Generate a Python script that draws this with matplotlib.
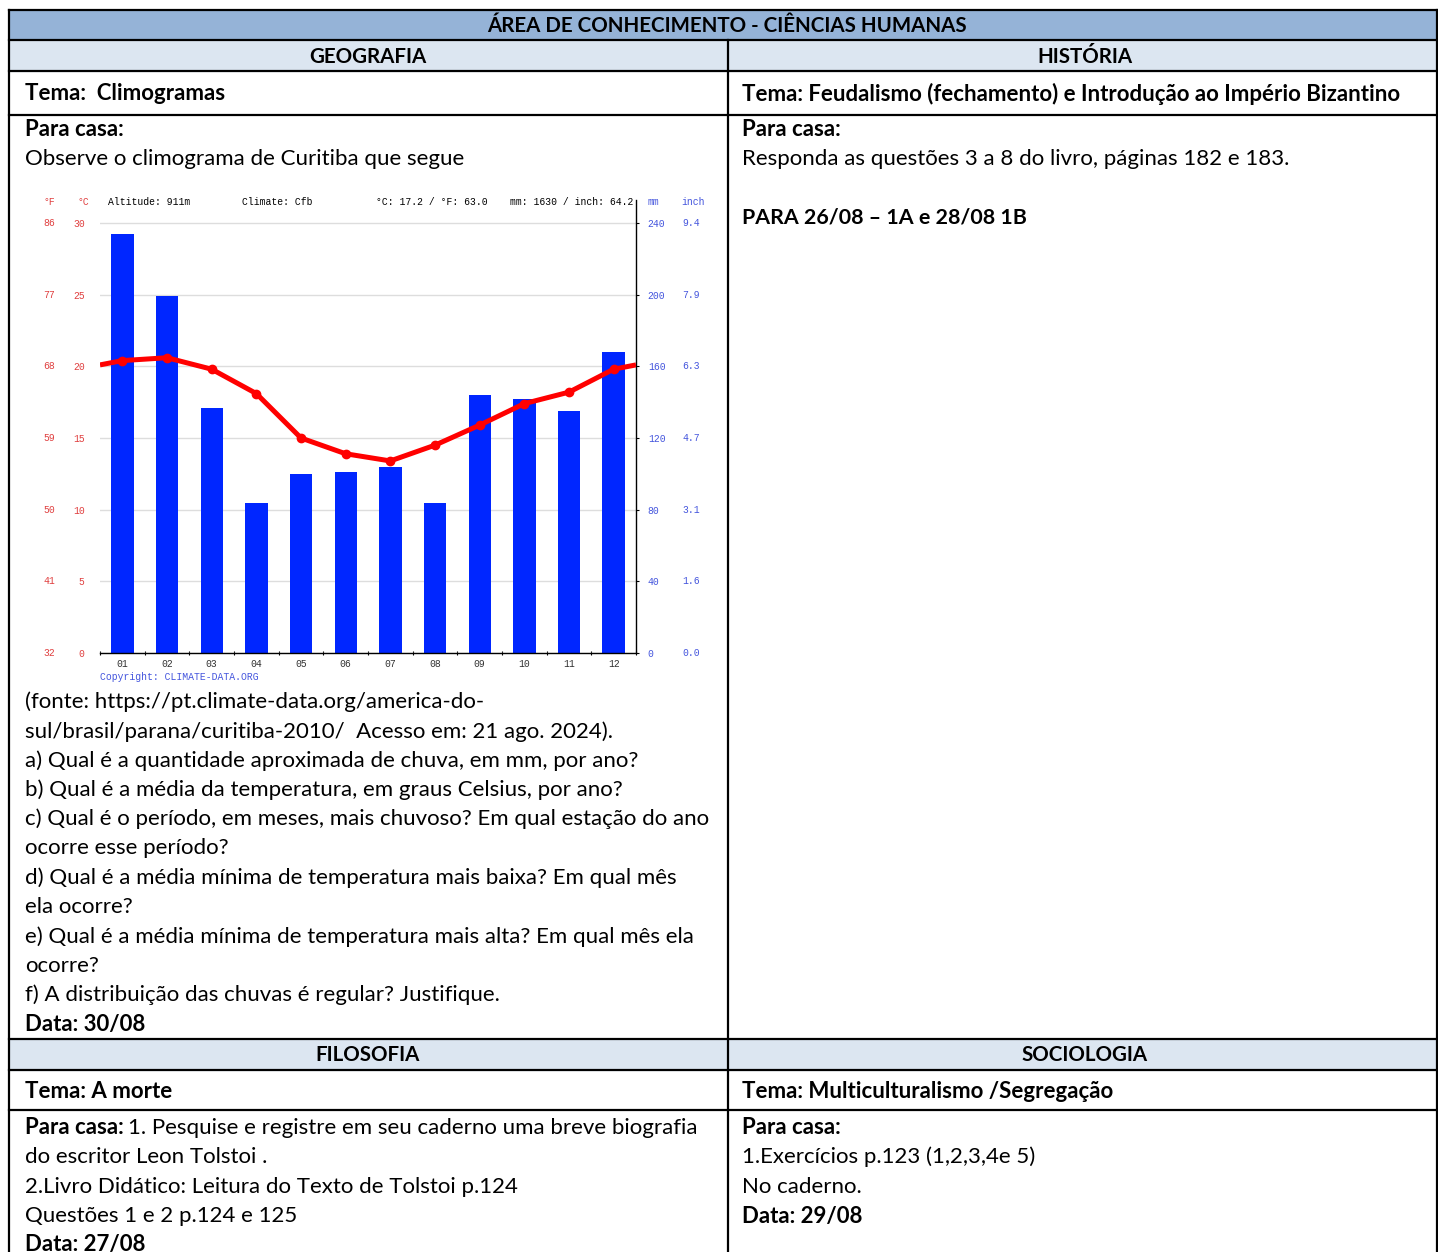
import matplotlib
matplotlib.use("Agg")
import matplotlib.pyplot as plt
from matplotlib.patches import Rectangle
from matplotlib.transforms import blended_transform_factory, IdentityTransform

W, H = 1438, 1252

# climograma de Curitiba (climate-data.org)
months = ["01", "02", "03", "04", "05", "06", "07", "08", "09", "10", "11", "12"]
precip_mm = [234, 199, 137, 84, 100, 101, 104, 84, 144, 142, 135, 168]
temp_c = [20.4, 20.6, 19.8, 18.1, 15.0, 13.9, 13.4, 14.5, 15.9, 17.4, 18.2, 19.8]
temp_ticks_c = [0, 5, 10, 15, 20, 25, 30]
temp_labels_f = ["32", "41", "50", "59", "68", "77", "86"]
precip_ticks_mm = [0, 40, 80, 120, 160, 200, 240]
precip_labels_in = ["0.0", "1.6", "3.1", "4.7", "6.3", "7.9", "9.4"]
chart_header = ["Altitude: 911m", "Climate: Cfb", "°C: 17.2 / °F: 63.0", "mm: 1630 / inch: 64.2"]

FONT = "Lato"
FS = 16
FS_CAPS = 14.8
RED = "#e04040"
BLUE = "#4455dd"

fig = plt.figure(figsize=(W / 100, H / 100), dpi=100)
bg = fig.add_axes([0, 0, 1, 1])
bg.set_xlim(0, W)
bg.set_ylim(H, 0)
bg.axis("off")

# table backgrounds
bg.add_patch(Rectangle((9, 10), W - 9, 30, color="#95b3d7", zorder=0))
bg.add_patch(Rectangle((9, 40), W - 9, 31, color="#dce6f1", zorder=0))
bg.add_patch(Rectangle((9, 1039), W - 9, 31, color="#dce6f1", zorder=0))

for y in [10, 40, 71, 115, 1039, 1070, 1110]:
    bg.plot([9, W], [y, y], color="black", lw=1.6, zorder=2)
bg.plot([9, 9], [10, H], color="black", lw=1.6, zorder=2)
bg.plot([1437, 1437], [10, H], color="black", lw=1.6, zorder=2)
bg.plot([728, 728], [40, H], color="black", lw=1.6, zorder=2)


def txt(x, y, s, bold=False, ha="left", size=FS):
    return bg.text(x, y, s, fontsize=size, family=FONT, ha=ha, va="center",
                   fontweight="bold" if bold else "normal", zorder=3)


def mixed(x, y, bold_part, rest):
    t = txt(x, y, bold_part, bold=True)
    bb = t.get_window_extent(renderer=fig.canvas.get_renderer())
    bg.text(bb.x1 + 4, y, rest, fontsize=FS, family=FONT, ha="left", va="center",
            transform=blended_transform_factory(IdentityTransform(), bg.transData), zorder=3)


txt(727, 26, "ÁREA DE CONHECIMENTO - CIÊNCIAS HUMANAS", bold=True, ha="center", size=FS_CAPS)
txt(368, 57, "GEOGRAFIA", bold=True, ha="center", size=FS_CAPS)
txt(1085, 57, "HISTÓRIA", bold=True, ha="center", size=FS_CAPS)
txt(25, 94, "Tema:  Climogramas", bold=True)
txt(742, 94, "Tema: Feudalismo (fechamento) e Introdução ao Império Bizantino", bold=True)

txt(25, 130, "Para casa:", bold=True)
txt(25, 159, "Observe o climograma de Curitiba que segue")
txt(742, 130, "Para casa:", bold=True)
txt(742, 159, "Responda as questões 3 a 8 do livro, páginas 182 e 183.")
txt(742, 218, "PARA 26/08 – 1A e 28/08 1B", bold=True, size=15.4)

left_lines = [
    "(fonte: https://pt.climate-data.org/america-do-",
    "sul/brasil/parana/curitiba-2010/  Acesso em: 21 ago. 2024).",
    "a) Qual é a quantidade aproximada de chuva, em mm, por ano?",
    "b) Qual é a média da temperatura, em graus Celsius, por ano?",
    "c) Qual é o período, em meses, mais chuvoso? Em qual estação do ano",
    "ocorre esse período?",
    "d) Qual é a média mínima de temperatura mais baixa? Em qual mês",
    "ela ocorre?",
    "e) Qual é a média mínima de temperatura mais alta? Em qual mês ela",
    "ocorre?",
    "f) A distribuição das chuvas é regular? Justifique.",
]
for i, s in enumerate(left_lines):
    txt(25, 702 + i * 29.3, s)
txt(25, 1024, "Data: 30/08", bold=True)

txt(368, 1055, "FILOSOFIA", bold=True, ha="center", size=FS_CAPS)
txt(1085, 1055, "SOCIOLOGIA", bold=True, ha="center", size=FS_CAPS)
txt(25, 1091, "Tema: A morte", bold=True)
txt(742, 1091, "Tema: Multiculturalismo /Segregação", bold=True)

mixed(25, 1128, "Para casa:", "1. Pesquise e registre em seu caderno uma breve biografia")
txt(25, 1157, "do escritor Leon Tolstoi .")
txt(25, 1187, "2.Livro Didático: Leitura do Texto de Tolstoi p.124")
txt(25, 1216, "Questões 1 e 2 p.124 e 125")
txt(25, 1244, "Data: 27/08", bold=True)

txt(742, 1128, "Para casa:", bold=True)
txt(742, 1157, "1.Exercícios p.123 (1,2,3,4e 5)")
txt(742, 1187, "No caderno.")
txt(742, 1216, "Data: 29/08", bold=True)

# ---- climogram ----
top_px, bot_px, left_px, right_px = 200, 653, 100, 636
scale = (bot_px - top_px) / (bot_px - 223)
ax = fig.add_axes([left_px / W, (H - bot_px) / H, (right_px - left_px) / W, (bot_px - top_px) / H])
ax.set_xlim(0.5, 12.5)
ax.set_ylim(0, 240 * scale)
xs = list(range(1, 13))
ax.bar(xs, precip_mm, width=0.5, color="#0026ff", zorder=2)
ax.grid(axis="y", color="#dddddd", lw=1, zorder=0)
ax.set_axisbelow(True)
ax.set_xticks(xs)
ax.set_xticklabels(months, family="Liberation Mono", fontsize=7, color="#333333")
ax.set_xticks([x + 0.5 for x in range(0, 13)], minor=True)
ax.tick_params(axis="x", which="major", length=0, pad=4)
ax.tick_params(axis="x", which="minor", length=3, width=0.8, direction="inout")
ax.patch.set_alpha(0)

axt = ax.twinx()
axt.set_ylim(0, 30 * scale)
edge = (temp_c[0] + temp_c[-1]) / 2
axt.plot([0.5] + xs + [12.5], [edge] + temp_c + [edge], color="#ff0000", lw=3.6,
         solid_capstyle="butt", zorder=3)
axt.plot(xs, temp_c, "o", color="#ff0000", ms=6, zorder=4)
axt.yaxis.tick_left()
axt.set_yticks(temp_ticks_c)
axt.set_yticklabels([str(v) for v in temp_ticks_c], family="Liberation Mono")
axt.tick_params(axis="y", length=0, pad=11, labelcolor=RED, labelsize=7)
for s in axt.spines.values():
    s.set_visible(False)

# precipitation ticks on the right (after twinx, which moves them)
ax.yaxis.tick_right()
ax.set_yticks(precip_ticks_mm)
ax.set_yticklabels([str(v) for v in precip_ticks_mm], family="Liberation Mono")
ax.tick_params(axis="y", colors="black", labelcolor=BLUE, length=2.5, width=0.8, pad=6, labelsize=7)
for s in ["top", "left"]:
    ax.spines[s].set_visible(False)
ax.spines["bottom"].set_linewidth(1)
ax.spines["right"].set_linewidth(1)

ytr = axt.get_yaxis_transform()
for c, f in zip(temp_ticks_c, temp_labels_f):
    axt.text(-0.084, c, f, transform=ytr, ha="right", va="center", fontsize=7,
             family="Liberation Mono", color=RED)
ytr2 = ax.get_yaxis_transform()
for mm, inch in zip(precip_ticks_mm, precip_labels_in):
    ax.text(1.086, mm, inch, transform=ytr2, ha="left", va="center", fontsize=7,
            family="Liberation Mono", color=BLUE)

mono = dict(fontsize=7, family="Liberation Mono", va="center", zorder=3)
bg.text(49, 202, "°F", ha="center", color=RED, **mono)
bg.text(83, 202, "°C", ha="center", color=RED, **mono)
for x, s in zip([108, 242, 376, 510], chart_header):
    bg.text(x, 202, s, ha="left", color="black", **mono)
bg.text(653, 202, "mm", ha="center", color=BLUE, **mono)
bg.text(693, 202, "inch", ha="center", color=BLUE, **mono)
bg.text(100, 677, "Copyright: CLIMATE-DATA.ORG", ha="left", color=BLUE, **mono)

fig.savefig("out.png", dpi=100)
